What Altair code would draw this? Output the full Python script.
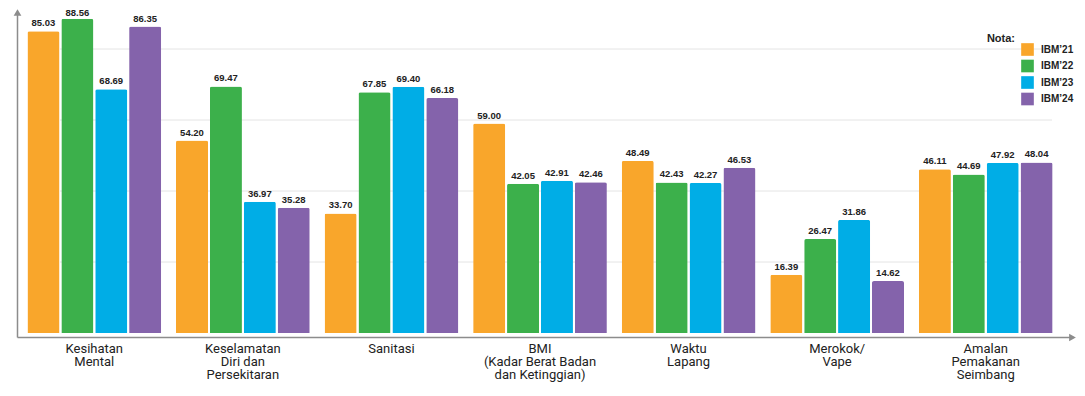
import altair as alt
import pandas as pd

# ---- data ----
categories = [
    "Kesihatan|Mental",
    "Keselamatan|Diri dan|Persekitaran",
    "Sanitasi",
    "BMI|(Kadar Berat Badan|dan Ketinggian)",
    "Waktu|Lapang",
    "Merokok/|Vape",
    "Amalan|Pemakanan|Seimbang",
]
series = ["IBM’21", "IBM’22", "IBM’23", "IBM’24"]
ibm21 = [85.03, 54.20, 33.70, 59.00, 48.49, 16.39, 46.11]
ibm22 = [88.56, 69.47, 67.85, 42.05, 42.43, 26.47, 44.69]
ibm23 = [68.69, 36.97, 69.40, 42.91, 42.27, 31.86, 47.92]
ibm24 = [86.35, 35.28, 66.18, 42.46, 46.53, 14.62, 48.04]
colors = ["#F9A62B", "#3CB04B", "#00ADE6", "#8463AB"]
grid_values = [20, 40, 60, 80]

rows = []
for s, vals in zip(series, [ibm21, ibm22, ibm23, ibm24]):
    for c, v in zip(categories, vals):
        rows.append({"category": c, "series": s, "value": v})
df = pd.DataFrame(rows)

W, H = 1040, 323
AXIS_COLOR = "#8C8C8C"
y_scale = alt.Scale(domain=[0, 91], nice=False, zero=True)

x_enc = alt.X(
    "category:N",
    sort=categories,
    scale=alt.Scale(paddingInner=0.1, paddingOuter=0.05),
    axis=alt.Axis(
        title=None, domain=False, ticks=False, grid=False, labelAngle=0,
        labelExpr="split(datum.label, '|')",
        labelFont="Roboto", labelFontSize=13, labelColor="#222222",
        labelLineHeight=13, labelPadding=9, labelBaseline="top",
    ),
)
xoff = alt.XOffset("series:N", sort=series,
                   scale=alt.Scale(paddingInner=0.055, paddingOuter=0))
y_enc = alt.Y("value:Q", scale=y_scale, axis=None)
color = alt.Color(
    "series:N", sort=series,
    scale=alt.Scale(domain=series, range=colors),
    legend=alt.Legend(
        title=None, orient="none", legendX=1001, legendY=33,
        symbolType="square", symbolSize=160, symbolStrokeWidth=0, symbolOpacity=1,
        labelFont="Liberation Sans", labelFontWeight="bold", labelFontSize=10,
        labelColor="#222222", labelOffset=7, rowPadding=3.5, padding=0,
    ),
)

grid = alt.Chart(pd.DataFrame({"value": grid_values})).mark_rule(
    color="#E4E4E4", strokeWidth=1
).encode(y=alt.Y("value:Q", scale=y_scale, axis=None), x=alt.value(40), x2=alt.value(1032))

base = alt.Chart(df).encode(x=x_enc, xOffset=xoff, y=y_enc)
bars = base.mark_bar(cornerRadiusTopLeft=2, cornerRadiusTopRight=2).encode(color=color)
labels = base.transform_calculate(
    labelpos="min(datum.value, 87.8)"
).mark_text(
    baseline="bottom", dy=-3, font="Liberation Sans", fontWeight="bold",
    fontSize=9.5, color="#222222"
).encode(
    y=alt.Y("labelpos:Q", scale=y_scale, axis=None),
    text=alt.Text("value:Q", format=".2f"),
)

one = pd.DataFrame({"k": [0]})
axis_v = alt.Chart(one).mark_rule(color=AXIS_COLOR, strokeWidth=1.5).encode(
    x=alt.value(-2.5), y=alt.value(2), y2=alt.value(327.5))
axis_h = alt.Chart(one).mark_rule(color=AXIS_COLOR, strokeWidth=1.5).encode(
    x=alt.value(-2.5), x2=alt.value(1051), y=alt.value(327.5))
arrow_up = alt.Chart(one).mark_point(
    shape="triangle-up", filled=True, color=AXIS_COLOR, size=60, opacity=1
).encode(x=alt.value(-2.5), y=alt.value(2.5))
arrow_right = alt.Chart(one).mark_point(
    shape="triangle-right", filled=True, color=AXIS_COLOR, size=60, opacity=1
).encode(x=alt.value(1052.5), y=alt.value(327.5))
nota = alt.Chart(one).mark_text(
    text="Nota:", align="right", baseline="alphabetic", font="Liberation Sans",
    fontWeight="bold", fontSize=11, color="#222222"
).encode(x=alt.value(995), y=alt.value(32))

chart = alt.layer(
    grid, bars, labels, axis_v, axis_h, arrow_up, arrow_right, nota
).properties(
    width=W, height=H,
    padding={"left": 12, "top": 2, "right": 17, "bottom": 50},
    autosize=alt.AutoSizeParams(type="none"),
    background="white",
).configure_view(stroke=None)

chart.save("out.html", embed_options={"renderer": "svg", "actions": False})
